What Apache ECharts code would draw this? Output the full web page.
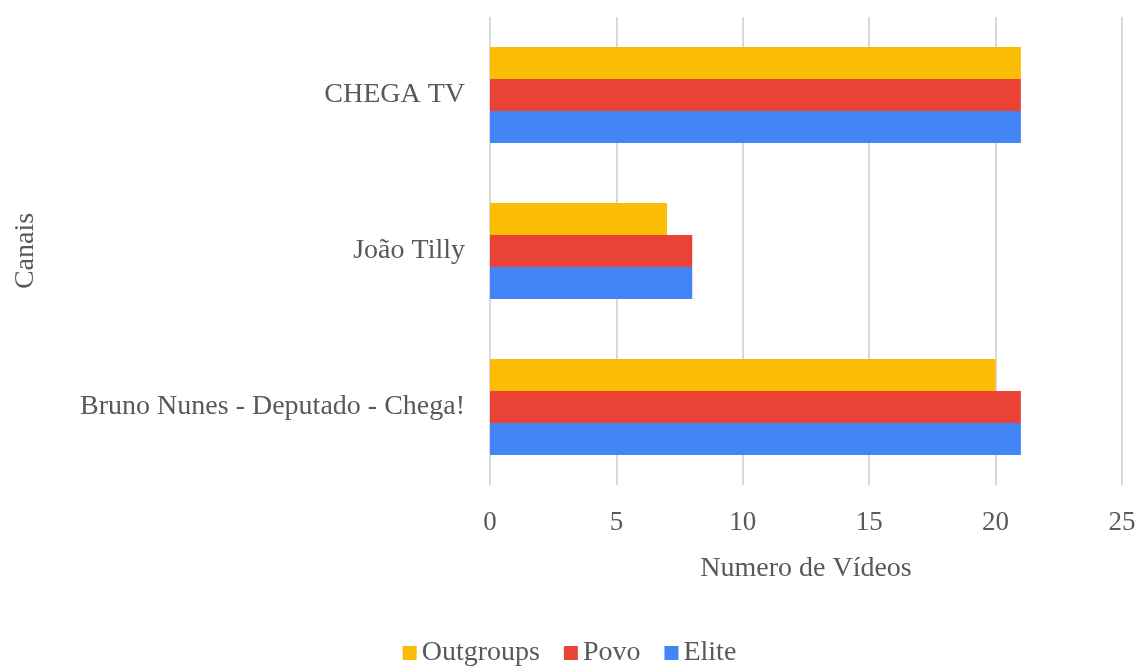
<!DOCTYPE html>
<html><head><meta charset="utf-8">
<script src="https://cdn.jsdelivr.net/npm/echarts@6/dist/echarts.min.js"></script>
<style>html,body{margin:0;padding:0;background:#fff}#c{width:1139px;height:666px}</style>
</head><body><div id="c"></div>
<script>
const categories = ['Bruno Nunes - Deputado - Chega!', 'João Tilly', 'CHEGA TV'];
const elite = [21, 8, 21];
const povo = [21, 8, 21];
const outgroups = [20, 7, 21];
const xTicks = [0, 5, 10, 15, 20, 25];

const font = '"Liberation Serif", "Times New Roman", serif';
const txt = '#595959';
const chart = echarts.init(document.getElementById('c'));
chart.setOption({
  animation: false,
  textStyle: { fontFamily: font },
  grid: { left: 490, right: 17, top: 17, bottom: 181, containLabel: false, outerBoundsMode: 'none' },
  legend: {
    data: ['Outgroups', 'Povo', 'Elite'],
    bottom: -6, left: 'center',
    itemWidth: 14, itemHeight: 14, itemGap: 24,
    icon: 'rect',
    textStyle: { fontFamily: font, fontSize: 28, color: txt }
  },
  xAxis: {
    type: 'value', min: xTicks[0], max: xTicks[xTicks.length-1], interval: 5,
    name: 'Numero de Vídeos', nameLocation: 'middle', nameGap: 70,
    nameTextStyle: { fontFamily: font, fontSize: 28, color: txt },
    axisLine: { show: false }, axisTick: { show: false },
    axisLabel: { fontFamily: font, fontSize: 27, color: txt, margin: 24 },
    splitLine: { show: true, lineStyle: { color: '#d9d9d9', width: 2 } }
  },
  yAxis: {
    type: 'category', data: categories,
    name: 'Canais', nameLocation: 'middle', nameGap: 450, nameRotate: 90,
    nameTextStyle: { fontFamily: font, fontSize: 28, color: txt },
    axisLine: { show: false }, axisTick: { show: false },
    axisLabel: { fontFamily: font, fontSize: 28, color: txt, margin: 25 }
  },
  series: [
    { name: 'Outgroups', type: 'bar', data: outgroups, itemStyle: { color: '#FBBC04' }, barGap: '0%', barCategoryGap: '38.5%' },
    { name: 'Povo', type: 'bar', data: povo, itemStyle: { color: '#EA4335' }, barGap: '0%', barCategoryGap: '38.5%' },
    { name: 'Elite', type: 'bar', data: elite, itemStyle: { color: '#4285F4' }, barGap: '0%', barCategoryGap: '38.5%' }
  ]
});
</script></body></html>
